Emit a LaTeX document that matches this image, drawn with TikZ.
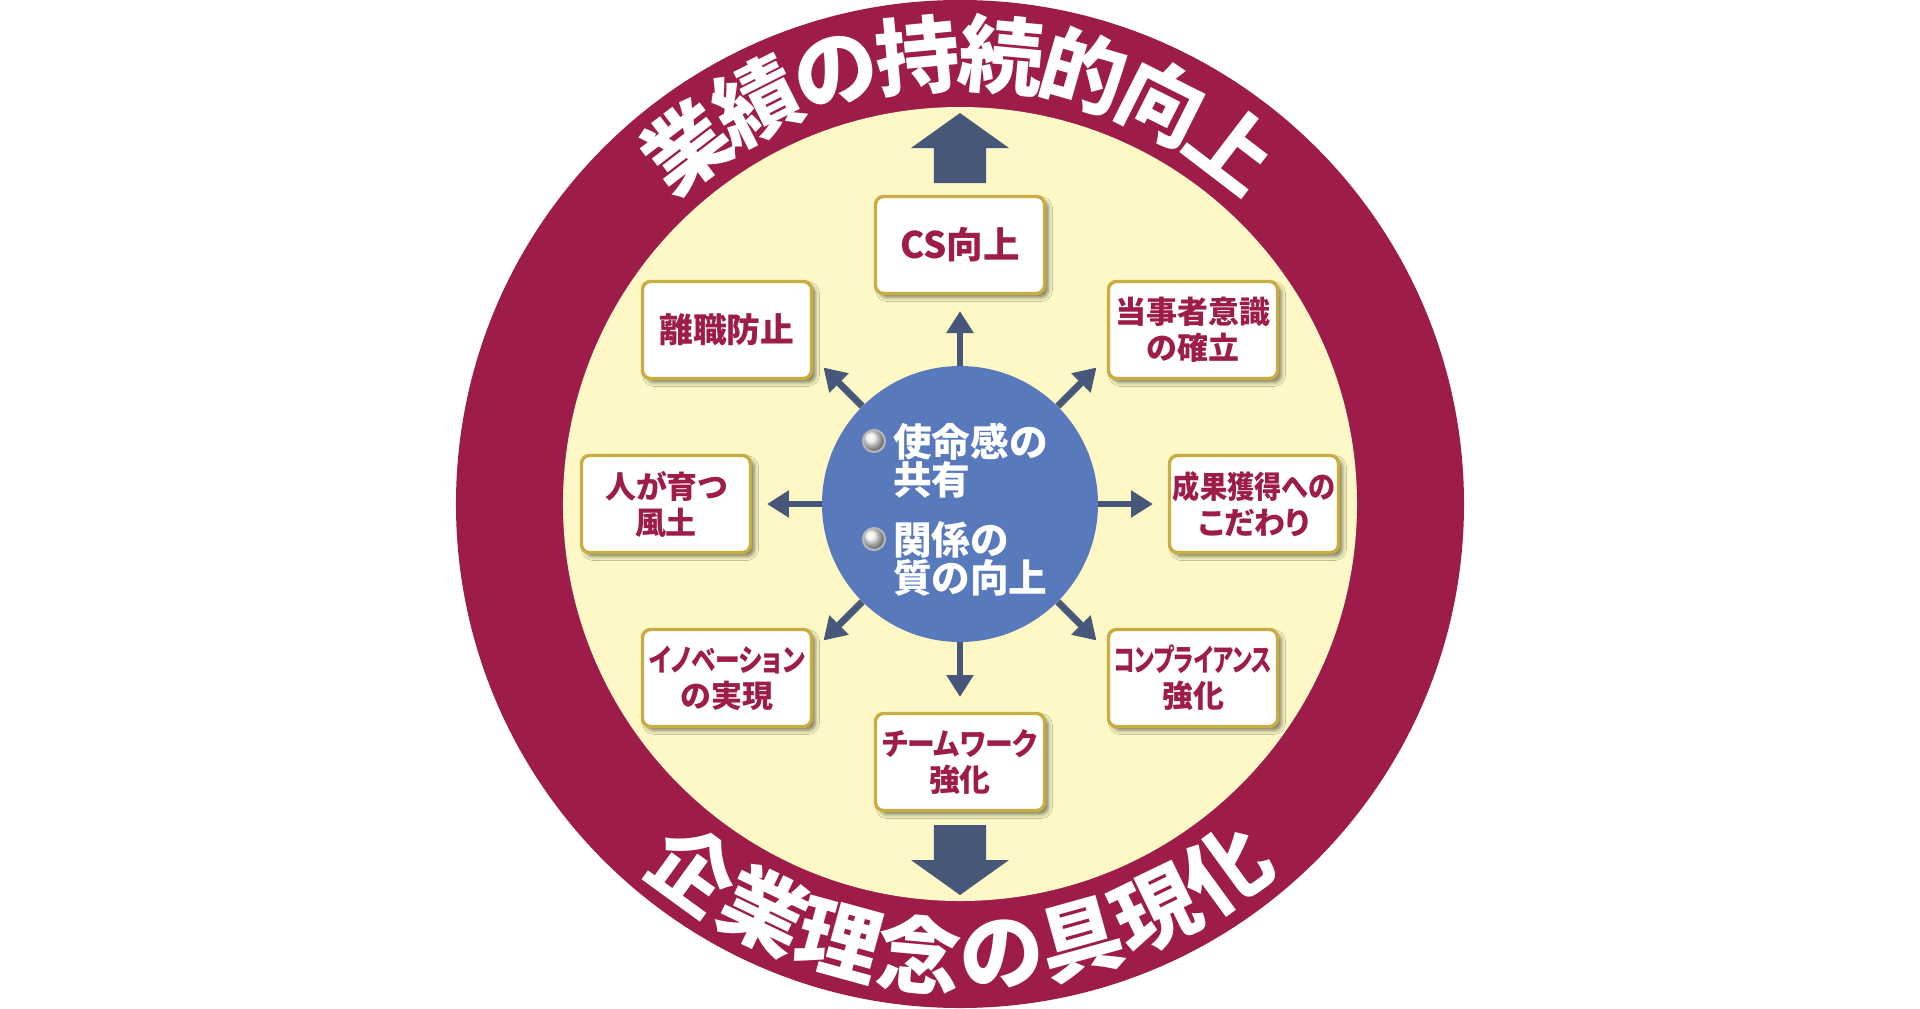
\documentclass[tikz,border=0pt]{standalone}
\usepackage{fontspec}
\setmainfont{Noto Sans CJK JP}[RawFeature=+palt]
\usepackage{graphicx}
\usetikzlibrary{arrows.meta, positioning, calc, shadows.blur}

\definecolor{ringred}{RGB}{158,28,74}
\definecolor{cream}{RGB}{253,248,197}
\definecolor{coreblue}{RGB}{88,122,188}
\definecolor{slate}{RGB}{70,87,122}
\definecolor{gold}{RGB}{200,174,66}

\newcommand{\narrowtext}[2]{\scalebox{#1}[1]{#2}}

\begin{document}
\begin{tikzpicture}[
    x=0.25mm, y=0.25mm,
    disc/.style={circle, inner sep=0pt},
    goal/.style={draw=gold, line width=0.85mm, rounded corners=2mm, fill=white, align=center,
        minimum width=42.25mm, minimum height=24.25mm, inner sep=0pt, text=ringred,
        font=\bfseries\fontsize{22pt}{25.6pt}\selectfont,
        blur shadow={shadow xshift=1mm, shadow yshift=-1mm, shadow blur radius=1mm, shadow opacity=50}},
    spoke/.style={-{Triangle[length=5.5mm, width=6.5mm]}, line width=1.7mm, slate},
    bigarrow/.style={fill=slate},
    ringchar/.style={text=white, inner sep=0pt, font=\bfseries\fontsize{60pt}{60pt}\selectfont},
    coretext/.style={text=white, align=left, inner sep=0pt, anchor=west, font=\bfseries\fontsize{27.5pt}{27pt}\selectfont},
    bead/.style={circle, inner sep=0pt, minimum size=5.5mm, shading=ball, ball color=gray!15, draw=gray!55, line width=0.5mm}
]
\path[use as bounding box, fill=white] (-960,-504) rectangle (960,504);

% ring and field
\node[disc, fill=ringred, minimum size=252mm] (ring) at (0,0) {};
\node[disc, fill=cream, minimum size=198.5mm] (field) at (0,0) {};

% text on the ring
\foreach \ch [count=\k] in {業,績,の,持,続,的,向,上}
    \node[ringchar, rotate={127.5-(\k-1)*10.7-90}] (top\k) at ({127.5-(\k-1)*10.7}:450) {\ch};
\foreach \ch [count=\k] in {企,業,理,念,の,具,現,化}
    \node[ringchar, rotate={-126+(\k-1)*10.3+90}] (bot\k) at ({-126+(\k-1)*10.3}:452) {\ch};

% big arrows
\fill[bigarrow] (-26,321) -- (-26,356) -- (-49,356) -- (0,391) -- (49,356) -- (26,356) -- (26,321) -- cycle;
\fill[bigarrow] (-26,-321) -- (-26,-356) -- (-49,-356) -- (0,-391) -- (49,-356) -- (26,-356) -- (26,-321) -- cycle;

% boxes
\node[goal, font=\bfseries\fontsize{26pt}{28pt}\selectfont] (cs) at (0,259) {CS向上};
\node[goal] (ownership) at (233,174) {当事者意識\\の確立};
\node[goal, font=\bfseries\fontsize{24pt}{26pt}\selectfont] (retention) at (-233,174) {離職防止};
\node[goal] (results) at (294,0) {\narrowtext{0.88}{成果獲得への}\\こだわり};
\node[goal] (culture) at (-294,0) {人が育つ\\風土};
\node[goal] (innovation) at (-233,-174) {\narrowtext{0.8}{イノベーション}\\の実現};
\node[goal] (compliance) at (233,-174) {\narrowtext{0.7}{コンプライアンス}\\強化};
\node[goal] (teamwork) at (0,-258) {\narrowtext{0.9}{チームワーク}\\強化};

% centre
\node[disc, fill=coreblue, minimum size=69mm] (core) at (0,0) {};
\coordinate (tipN) at (90:193);
\coordinate (tipNE) at (45:193);
\coordinate (tipE) at (0:193);
\coordinate (tipSE) at (-45:193);
\coordinate (tipS) at (-90:193);
\coordinate (tipSW) at (-135:193);
\coordinate (tipW) at (180:193);
\coordinate (tipNW) at (135:193);
\draw[spoke] (core) -- (tipN);
\draw[spoke] (core) -- (tipNE);
\draw[spoke] (core) -- (tipE);
\draw[spoke] (core) -- (tipSE);
\draw[spoke] (core) -- (tipS);
\draw[spoke] (core) -- (tipSW);
\draw[spoke] (core) -- (tipW);
\draw[spoke] (core) -- (tipNW);

\node[coretext] (mission) at (-67,43) {使命感の\\共有};
\node[coretext] (relation) at (-67,-55) {関係の\\質の向上};
\node[bead] (dot1) at (-86,63) {};
\node[bead] (dot2) at (-86,-35) {};
\end{tikzpicture}
\end{document}
